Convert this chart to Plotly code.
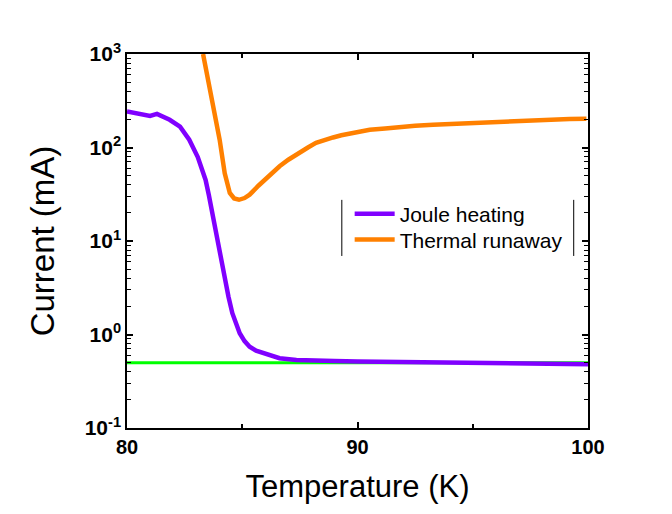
import plotly.graph_objects as go

# ---- data ----
joule_T = [80.0, 80.5, 81.0, 81.3, 81.85, 82.3, 82.7, 83.07, 83.41, 83.55, 83.70, 83.83, 83.95,
           84.1, 84.24, 84.4, 84.57, 84.73, 84.89, 85.1, 85.32, 85.6, 85.9, 86.25, 86.62, 87.35,
           88.0, 89.0, 90.0, 92.0, 94.0, 96.0, 98.0, 100.0]
joule_I = [243, 232, 218, 229, 198, 167, 121, 79, 45, 31, 19.9, 13, 8.7,
           5.6, 3.85, 2.55, 1.69, 1.3, 1.03, 0.85, 0.74, 0.67, 0.63, 0.585, 0.557, 0.533,
           0.525, 0.52, 0.515, 0.51, 0.502, 0.492, 0.487, 0.48]

runaway_T = [83.3, 83.73, 84.02, 84.24, 84.46, 84.65, 84.86, 85.1, 85.32, 85.7, 86.12, 86.62, 87.0,
             87.42, 87.85, 88.2, 88.6, 88.94, 89.3, 89.66, 90.1, 90.53, 91.2, 91.83, 92.5,
             93.28, 94.0, 94.87, 95.5, 96.17, 97.0, 97.6, 98.5, 99.2, 99.93]
runaway_I = [1000, 275, 121, 53, 32.6, 28.5, 27.6, 28.8, 31.3, 39, 49, 63, 74,
             87, 100, 112, 122, 128, 135, 141, 149, 155, 160, 166, 171,
             175, 178, 183, 186, 190, 194, 199, 198, 202, 203]

ref_T = [80, 100]
ref_I = [0.5, 0.5]

x_ticks = [80, 90, 100]
x_minor = [85, 95]
y_ticks = [0.1, 1, 10, 100, 1000]
y_ticklabels = ["<b>10<sup>-1</sup></b>", "<b>10<sup>0</sup></b>", "<b>10<sup>1</sup></b>",
                "<b>10<sup>2</sup></b>", "<b>10<sup>3</sup></b>"]
y_minor = [m * 10 ** e for e in [-1, 0, 1, 2] for m in range(2, 10)]

FONT = "Arial, Liberation Sans, sans-serif"

fig = go.Figure()
fig.add_trace(go.Scatter(x=ref_T, y=ref_I, mode="lines", line=dict(color="#00FF00", width=3),
                         showlegend=False, hoverinfo="skip"))
fig.add_trace(go.Scatter(x=joule_T, y=joule_I, mode="lines", name="Joule heating",
                         line=dict(color="#8000FF", width=4.5), legend="legend"))
fig.add_trace(go.Scatter(x=runaway_T, y=runaway_I, mode="lines", name="Thermal runaway",
                         line=dict(color="#FF8000", width=4.5), legend="legend2"))

axis_common = dict(showline=True, linecolor="black", linewidth=1.5, mirror="ticks",
                   ticks="inside", tickcolor="black", tickwidth=1.5, ticklen=6,
                   showgrid=False, zeroline=False)

fig.update_xaxes(range=[80, 100], tickmode="array", tickvals=x_ticks,
                 ticktext=["<b>%d</b>" % v for v in x_ticks],
                 tickfont=dict(family=FONT, size=20, color="black"),
                 title=dict(text="Temperature (K)", font=dict(family=FONT, size=31, color="black"),
                            standoff=19),
                 minor=dict(tickmode="array", tickvals=x_minor, ticks="inside", ticklen=4,
                            tickcolor="black", tickwidth=1.5),
                 **axis_common)
fig.update_yaxes(type="log", range=[-1, 3], tickmode="array", tickvals=y_ticks, ticktext=y_ticklabels,
                 tickfont=dict(family=FONT, size=21, color="black"),
                 title=dict(text="Current (mA)", font=dict(family=FONT, size=33, color="black"),
                            standoff=20),
                 minor=dict(tickmode="array", tickvals=y_minor, ticks="inside", ticklen=4,
                            tickcolor="black", tickwidth=1),
                 **axis_common)

legend_style = dict(xanchor="left", yanchor="middle", bgcolor="rgba(0,0,0,0)", borderwidth=0,
                    font=dict(family=FONT, size=21, color="black"), itemwidth=40)

fig.update_layout(
    width=672, height=514,
    margin=dict(l=119, r=92, t=46, b=94),
    paper_bgcolor="white", plot_bgcolor="white",
    legend=dict(x=0.483, y=0.572, **legend_style),
    legend2=dict(x=0.483, y=0.503, **legend_style),
    shapes=[
        dict(type="line", xref="paper", yref="paper", x0=0.466, x1=0.466,
             y0=0.46, y1=0.61, line=dict(color="black", width=1)),
        dict(type="line", xref="paper", yref="paper", x0=0.969, x1=0.969,
             y0=0.46, y1=0.61, line=dict(color="black", width=1)),
    ],
)

fig.write_html("out.html")
